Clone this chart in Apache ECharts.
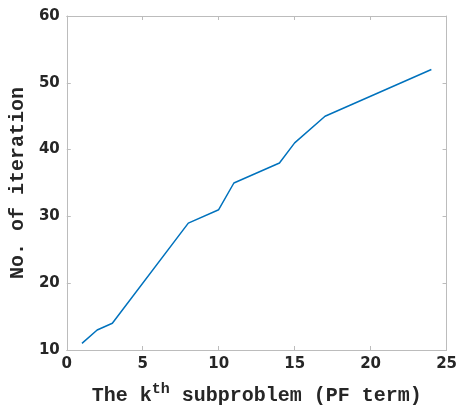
<!DOCTYPE html>
<html>
<head>
<meta charset="utf-8">
<script src="https://cdn.jsdelivr.net/npm/echarts@6/dist/echarts.min.js"></script>
<style>
  html, body { margin: 0; padding: 0; background: #fff; }
  #chart { width: 460px; height: 414px; }
</style>
</head>
<body>
<div id="chart"></div>
<script>
// k-th subproblem vs. number of iterations (vertices)
const kValues = [1, 2, 3, 8, 10, 11, 14, 15, 17, 24]
const iterations = [11, 13, 14, 29, 31, 35, 38, 41, 45, 52]

const xTicks = { min: 0, max: 25, interval: 5 }
const yTicks = { min: 10, max: 60, interval: 10 }

const axisGray = '#bcbcbc'
const labelColor = '#262626'
const titleFont = '"Liberation Mono", "DejaVu Sans Mono", monospace'

const chart = echarts.init(document.getElementById('chart'))

const frameAxis = {
  axisLine: { show: true, onZero: false, lineStyle: { color: axisGray, width: 1 } },
  axisTick: { show: true, inside: true, length: 4, lineStyle: { color: axisGray } },
  splitLine: { show: false }
}

chart.setOption({
  animation: false,
  grid: { left: 61, right: 11, top: 16, bottom: 64 },
  xAxis: [
    {
      type: 'value',
      min: xTicks.min, max: xTicks.max, interval: xTicks.interval,
      ...frameAxis,
      axisLabel: {
        margin: 7,
        color: labelColor,
        fontFamily: '"DejaVu Sans", sans-serif',
        fontWeight: 'bold',
        fontSize: 15
      },
      name: 'The k{sup|th} subproblem (PF term)',
      nameLocation: 'middle',
      nameGap: 32,
      nameTextStyle: {
        color: labelColor,
        fontFamily: titleFont,
        fontWeight: 'bold',
        fontSize: 20,
        rich: {
          sup: {
            fontFamily: titleFont,
            fontWeight: 'bold',
            fontSize: 15,
            color: labelColor,
            verticalAlign: 'top',
            padding: [0, 0, 12, 0]
          }
        }
      }
    },
    {
      type: 'value',
      position: 'top',
      min: xTicks.min, max: xTicks.max, interval: xTicks.interval,
      ...frameAxis,
      axisLabel: { show: false }
    }
  ],
  yAxis: [
    {
      type: 'value',
      min: yTicks.min, max: yTicks.max, interval: yTicks.interval,
      ...frameAxis,
      axisLabel: {
        margin: 7,
        color: labelColor,
        fontFamily: '"DejaVu Sans", sans-serif',
        fontWeight: 'bold',
        fontSize: 15
      },
      name: 'No. of iteration',
      nameLocation: 'middle',
      nameGap: 35,
      nameTextStyle: {
        color: labelColor,
        fontFamily: titleFont,
        fontWeight: 'bold',
        fontSize: 20
      }
    },
    {
      type: 'value',
      position: 'right',
      min: yTicks.min, max: yTicks.max, interval: yTicks.interval,
      ...frameAxis,
      axisLabel: { show: false }
    }
  ],
  series: [
    {
      type: 'line',
      data: kValues.map((k, i) => [k, iterations[i]]),
      showSymbol: false,
      symbol: 'none',
      lineStyle: { color: '#0072BD', width: 1.5 }
    }
  ]
})
</script>
</body>
</html>
